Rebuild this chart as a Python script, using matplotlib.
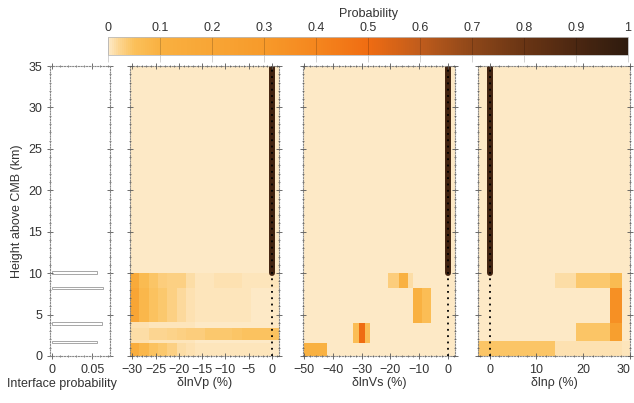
import numpy as np
import matplotlib
matplotlib.use("Agg")
import matplotlib.pyplot as plt
from matplotlib.colors import LinearSegmentedColormap
from matplotlib.ticker import MultipleLocator

plt.rcParams['font.family'] = ['Liberation Sans', 'DejaVu Sans']
plt.rcParams['font.size'] = 9
plt.rcParams['text.color'] = '#333333'
plt.rcParams['axes.labelcolor'] = '#333333'
plt.rcParams['xtick.color'] = '#555555'
plt.rcParams['ytick.color'] = '#555555'
plt.rcParams['xtick.labelcolor'] = '#333333'
plt.rcParams['ytick.labelcolor'] = '#333333'

# ---------------- data ----------------
# interface probability histogram (left panel)
interface_depth = [1.7, 3.9, 8.2, 10.1]
interface_prob = [0.056, 0.062, 0.063, 0.056]

# reference model (zero perturbation) above the top interface
ref_top = 10.0
ref_prob = 0.93

# dlnVp panel
vp_xedges = [-30.5, -28.5, -26.5, -24.5, -22.5, -20.5, -18.5, -16.5, -14.5,
             -12.5, -10.5, -8.5, -6.5, -4.5, -2.5, -0.5, 1.5]
vp_yedges = [0, 1.6, 1.9, 3.4, 4.1, 8.2, 10, 35]
vp_prob = [
    [0.13, 0.08, 0.05, 0.04, 0.03, 0.015, 0.008, 0.005, 0.004, 0.004, 0.004, 0.004, 0.004, 0.004, 0.004, 0.003],
    [0.008, 0.008, 0.006, 0.006, 0.005, 0.004, 0.004, 0.003, 0.003, 0.003, 0.003, 0.003, 0.003, 0.003, 0.003, 0.003],
    [0.015, 0.015, 0.02, 0.02, 0.025, 0.03, 0.035, 0.035, 0.04, 0.04, 0.04, 0.045, 0.05, 0.05, 0.05, 0.05],
    [0.01, 0.008, 0.007, 0.006, 0.005, 0.004, 0.004, 0.003, 0.003, 0.003, 0.003, 0.003, 0.003, 0.003, 0.003, 0.003],
    [0.20, 0.08, 0.05, 0.04, 0.03, 0.018, 0.01, 0.006, 0.004, 0.004, 0.004, 0.004, 0.004, 0.003, 0.003, 0.003],
    [0.16, 0.07, 0.045, 0.035, 0.03, 0.03, 0.012, 0.006, 0.006, 0.008, 0.01, 0.01, 0.007, 0.005, 0.004, 0.004],
    [0, 0, 0, 0, 0, 0, 0, 0, 0, 0, 0, 0, 0, 0, 0, 0],
]

# dlnVs panel
vs_xedges = [-50, -42, -33, -31, -29, -27, -21, -17, -14, -12, -9, -6, 2.5]
vs_yedges = [0, 1.6, 4.0, 8.2, 10, 35]
vs_prob = [
    [0.10, 0, 0, 0, 0, 0, 0, 0, 0, 0, 0, 0],
    [0, 0, 0.06, 0.5, 0.06, 0, 0, 0, 0, 0, 0, 0],
    [0, 0, 0, 0, 0, 0, 0, 0, 0, 0.1, 0.06, 0],
    [0, 0, 0, 0, 0, 0, 0.035, 0.1, 0.015, 0, 0, 0],
    [0, 0, 0, 0, 0, 0, 0, 0, 0, 0, 0, 0],
]

# dlnrho panel
rho_xedges = [-2.5, 14, 18.5, 25.7, 28.2, 30]
rho_yedges = [0, 1.8, 4.0, 8.2, 10, 35]
rho_prob = [
    [0.045, 0.01, 0.01, 0.01, 0.006],
    [0, 0, 0.045, 0.25, 0],
    [0, 0, 0.003, 0.35, 0],
    [0, 0.015, 0.04, 0.07, 0],
    [0, 0, 0, 0, 0],
]

# ---------------- colormap ----------------
cmap = LinearSegmentedColormap.from_list("prob", [
    (0.00, "#fde9c6"), (0.02, "#fcd590"), (0.05, "#fbc05a"), (0.10, "#f9b040"),
    (0.20, "#f8a535"), (0.30, "#f79a2a"), (0.40, "#f5861e"), (0.50, "#f06c12"),
    (0.60, "#c05c1c"), (0.70, "#8e4719"), (0.80, "#6a3514"), (0.90, "#4c2711"),
    (1.00, "#2e1b0e")])

fig = plt.figure(figsize=(6.34, 4.03), dpi=100)
H = 403.0
W = 634.0

def rect(x0, x1, y0=66, y1=356):
    return [x0 / W, 1 - y1 / H, (x1 - x0) / W, (y1 - y0) / H]

ax0 = fig.add_axes(rect(50, 110))
ax1 = fig.add_axes(rect(130, 279))
ax2 = fig.add_axes(rect(303, 455))
ax3 = fig.add_axes(rect(478, 630))
cax = fig.add_axes(rect(108, 628, 37, 55))

def style(ax):
    for s in ax.spines.values():
        s.set_linestyle((0, (1, 1.5)))
        s.set_color('#888888')
        s.set_linewidth(0.8)
    ax.tick_params(which='both', direction='inout', top=True, right=True)
    ax.tick_params(which='major', length=4, width=0.6)
    ax.tick_params(which='minor', length=2, width=0.5)
    ax.set_ylim(0, 35)
    ax.yaxis.set_major_locator(MultipleLocator(5))
    ax.yaxis.set_minor_locator(MultipleLocator(1))

# left panel
style(ax0)
ax0.barh(interface_depth, interface_prob, height=0.3, left=0,
         facecolor='white', edgecolor='#999999', linewidth=0.6)
ax0.set_xlim(-0.002, 0.072)
ax0.set_xticks([0, 0.05])
ax0.set_xticklabels(['0', '0.05'])
ax0.xaxis.set_minor_locator(MultipleLocator(0.01))
ax0.set_ylabel('Height above CMB (km)')
ax0.set_xlabel('Interface probability')
ax0.xaxis.set_label_coords(0.2, -0.075)
ax0.xaxis.label.set_verticalalignment('top')

panels = [
    (ax1, vp_xedges, vp_yedges, vp_prob, (-30.5, 1.5), [-30, -25, -20, -15, -10, -5, 0], 1, 'δlnVp (%)'),
    (ax2, vs_xedges, vs_yedges, vs_prob, (-50.5, 2.5), [-50, -40, -30, -20, -10, 0], 2, 'δlnVs (%)'),
    (ax3, rho_xedges, rho_yedges, rho_prob, (-2.5, 30), [0, 10, 20, 30], 2, 'δlnρ (%)'),
]
mesh = None
for ax, xe, ye, pr, xl, xt, mn, lab in panels:
    style(ax)
    mesh = ax.pcolormesh(xe, ye, np.array(pr), cmap=cmap, vmin=0, vmax=1,
                         shading='flat', zorder=1)
    ax.plot([0, 0], [ref_top, 35], color=cmap(ref_prob), lw=4.3,
            solid_capstyle='round', zorder=2)
    ax.plot([0, 0], [0, 35], color='black', lw=1.3, linestyle=(0, (1, 2.5)), zorder=3)
    ax.set_xlim(*xl)
    ax.set_xticks(xt)
    ax.xaxis.set_minor_locator(MultipleLocator(mn))
    ax.tick_params(labelleft=False)
    ax.set_xlabel(lab, labelpad=1)
    ax.set_axisbelow(False)

ax3.get_xticklabels()[-1].set_horizontalalignment('right')
ax3.get_xticklabels()[-1].set_x(30)

# colorbar
cb = fig.colorbar(mesh, cax=cax, orientation='horizontal')
cb.set_ticks(np.arange(0, 1.01, 0.1))
cb.set_ticklabels(['0', '0.1', '0.2', '0.3', '0.4', '0.5', '0.6', '0.7', '0.8', '0.9', '1'])
cax.xaxis.set_ticks_position('top')
cax.xaxis.set_label_position('top')
cax.tick_params(direction='in', length=18, width=0.5, color='#00000040', pad=2)
cb.outline.set_edgecolor('#bbbbbb')
cb.outline.set_linewidth(0.6)
cb.set_label('Probability', labelpad=4)

fig.savefig('out.png', dpi=100)
